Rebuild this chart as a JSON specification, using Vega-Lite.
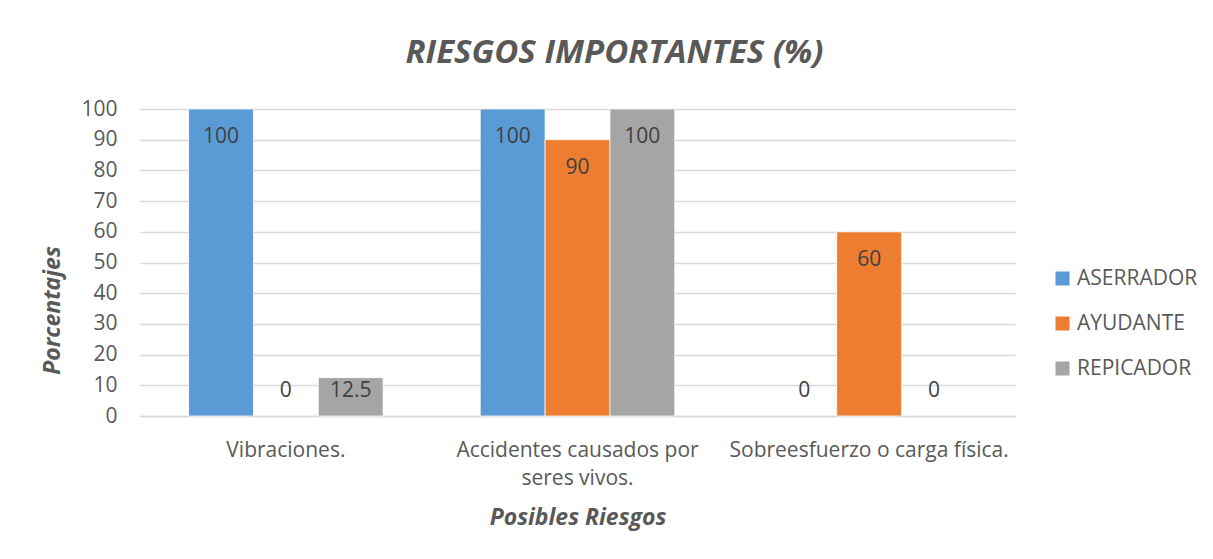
{
  "$schema": "https://vega.github.io/schema/vega-lite/v6.json",
  "autosize": "none",
  "width": 875,
  "height": 307,
  "padding": {"left": 140, "top": 109, "right": 198, "bottom": 143},
  "background": "white",
  "config": {
    "font": "Open Sans",
    "view": {"stroke": null}
  },
  "title": {
    "text": "RIESGOS IMPORTANTES (%)",
    "font": "Open Sans",
    "fontSize": 33,
    "fontWeight": "bold",
    "fontStyle": "italic",
    "color": "#595959",
    "anchor": "middle",
    "frame": "group",
    "dx": 37,
    "offset": 28
  },
  "data": {
    "values": [
      {"riesgo": "Vibraciones.", "puesto": "ASERRADOR", "valor": 100},
      {"riesgo": "Vibraciones.", "puesto": "AYUDANTE", "valor": 0},
      {"riesgo": "Vibraciones.", "puesto": "REPICADOR", "valor": 12.5},
      {"riesgo": "Accidentes causados por seres vivos.", "puesto": "ASERRADOR", "valor": 100},
      {"riesgo": "Accidentes causados por seres vivos.", "puesto": "AYUDANTE", "valor": 90},
      {"riesgo": "Accidentes causados por seres vivos.", "puesto": "REPICADOR", "valor": 100},
      {"riesgo": "Sobreesfuerzo o carga física.", "puesto": "ASERRADOR", "valor": 0},
      {"riesgo": "Sobreesfuerzo o carga física.", "puesto": "AYUDANTE", "valor": 60},
      {"riesgo": "Sobreesfuerzo o carga física.", "puesto": "REPICADOR", "valor": 0}
    ]
  },
  "encoding": {
    "x": {
      "field": "riesgo",
      "type": "nominal",
      "sort": null,
      "scale": {"paddingInner": 0.333, "paddingOuter": 0.1667},
      "axis": {
        "title": "Posibles Riesgos",
        "titleFont": "Open Sans",
        "titleFontSize": 23,
        "titleFontWeight": "bold",
        "titleFontStyle": "italic",
        "titleColor": "#595959",
        "titleY": 101,
        "titleBaseline": "middle",
        "labelAngle": 0,
        "labelFontSize": 21,
        "labelColor": "#595959",
        "labelPadding": 23,
        "labelLimit": 0,
        "labelLineHeight": 28,
        "labelExpr": "datum.value == 'Accidentes causados por seres vivos.' ? ['Accidentes causados por', 'seres vivos.'] : datum.value",
        "ticks": false,
        "domainColor": "#d9d9d9",
        "domainWidth": 1.5
      }
    },
    "xOffset": {"field": "puesto", "type": "nominal", "sort": ["ASERRADOR", "AYUDANTE", "REPICADOR"]},
    "y": {
      "field": "valor",
      "type": "quantitative",
      "scale": {"domain": [0, 100], "nice": false},
      "axis": {
        "title": "Porcentajes",
        "titleFont": "Open Sans",
        "titleFontSize": 23,
        "titleFontWeight": "bold",
        "titleFontStyle": "italic",
        "titleColor": "#595959",
        "titleX": -88,
        "titleY": 201,
        "titleAngle": -90,
        "titleAlign": "center",
        "titleBaseline": "middle",
        "values": [0, 10, 20, 30, 40, 50, 60, 70, 80, 90, 100],
        "tickCount": 11,
        "labelOverlap": false,
        "labelFontSize": 21,
        "labelColor": "#595959",
        "labelPadding": 23,
        "ticks": false,
        "domain": false,
        "gridColor": "#d9d9d9",
        "gridWidth": 1.5
      }
    }
  },
  "layer": [
    {
      "transform": [{"filter": "datum.valor > 0"}],
      "mark": {"type": "bar", "stroke": "white", "strokeWidth": 0.75},
      "encoding": {
        "color": {
          "field": "puesto",
          "type": "nominal",
          "sort": ["ASERRADOR", "AYUDANTE", "REPICADOR"],
          "scale": {"domain": ["ASERRADOR", "AYUDANTE", "REPICADOR"], "range": ["#5B9BD5", "#ED7D31", "#A5A5A5"]},
          "legend": {
            "title": null,
            "orient": "none",
            "legendX": 912,
            "legendY": 159,
            "symbolType": "square",
            "symbolSize": 196,
            "symbolStrokeWidth": 0,
            "labelFontSize": 21,
            "labelColor": "#595959",
            "labelOffset": 4,
            "rowPadding": 23
          }
        }
      }
    },
    {
      "transform": [{"filter": "datum.valor >= 20"}],
      "mark": {"type": "text", "baseline": "middle", "dy": 28, "fontSize": 21, "color": "#404040"},
      "encoding": {
        "text": {"field": "valor", "type": "quantitative"}
      }
    },
    {
      "transform": [{"filter": "datum.valor > 0 && datum.valor < 20"}],
      "mark": {"type": "text", "baseline": "middle", "dy": 13, "fontSize": 21, "color": "#404040"},
      "encoding": {
        "text": {"field": "valor", "type": "quantitative"}
      }
    },
    {
      "transform": [{"filter": "datum.valor == 0"}],
      "mark": {"type": "text", "baseline": "middle", "dy": -25, "fontSize": 21, "color": "#404040"},
      "encoding": {
        "text": {"field": "valor", "type": "quantitative"}
      }
    }
  ]
}
